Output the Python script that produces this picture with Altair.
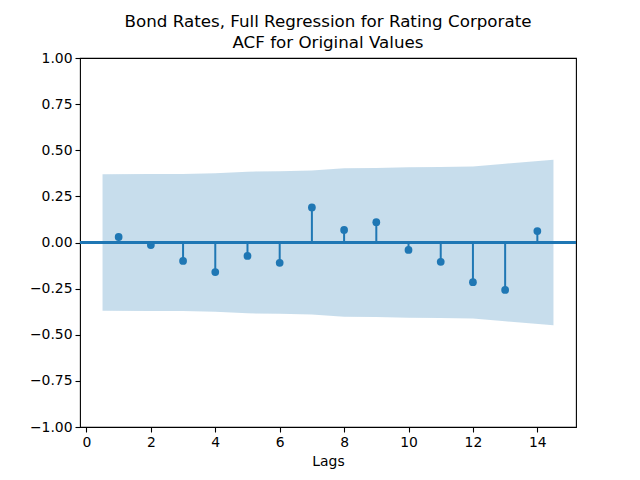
import altair as alt
import pandas as pd

lags = list(range(1, 15))
acf_values = [0.030, -0.014, -0.100, -0.160, -0.073, -0.110, 0.190,
              0.068, 0.110, -0.040, -0.105, -0.215, -0.257, 0.062]
conf_band = [0.370, 0.371, 0.371, 0.375, 0.384, 0.386, 0.390,
             0.402, 0.404, 0.408, 0.409, 0.412, 0.427, 0.448]
y_ticks = [-1.0, -0.75, -0.5, -0.25, 0.0, 0.25, 0.5, 0.75, 1.0]
x_ticks = [0, 2, 4, 6, 8, 10, 12, 14]

band_x = [lags[0] - 0.5] + lags[1:-1] + [lags[-1] + 0.5]
band_df = pd.DataFrame({"x": band_x, "lo": [-c for c in conf_band], "hi": conf_band})
acf_df = pd.DataFrame({"lag": lags, "acf": acf_values, "zero": [0.0] * len(lags)})

C0 = "#1f77b4"
FONT = "DejaVu Sans"

xscale = alt.Scale(domain=[-0.2, 15.2], nice=False, zero=False)
yscale = alt.Scale(domain=[-1.0, 1.0], nice=False)

xaxis = alt.Axis(title="Lags", values=x_ticks, format="d", grid=False,
                 tickColor="black", tickSize=5, tickWidth=1.1,
                 labelColor="black", labelFontSize=13.9, labelFont=FONT,
                 titleFont=FONT, titleFontSize=13.9, titleFontWeight="normal",
                 titleColor="black", titlePadding=6, labelPadding=3,
                 domain=False, labelFlush=False)
yaxis = alt.Axis(title=None, values=y_ticks, format=".2f", grid=False,
                 tickColor="black", tickSize=5, tickWidth=1.1,
                 labelColor="black", labelFontSize=13.9, labelFont=FONT,
                 labelPadding=3, domain=False, labelFlush=False)

band = alt.Chart(band_df).mark_area(color=C0, opacity=0.25).encode(
    x=alt.X("x:Q", scale=xscale, axis=xaxis),
    y=alt.Y("lo:Q", scale=yscale, axis=yaxis),
    y2="hi:Q",
)

zero_line = alt.Chart(acf_df).mark_rule(color=C0, strokeWidth=1.8).encode(
    y=alt.datum(0, scale=yscale)
)

stems = alt.Chart(acf_df).mark_rule(color=C0, strokeWidth=2).encode(
    x=alt.X("lag:Q", scale=xscale),
    y=alt.Y("zero:Q", scale=yscale),
    y2="acf:Q",
)

dots = alt.Chart(acf_df).mark_circle(color=C0, opacity=1, size=60).encode(
    x=alt.X("lag:Q", scale=xscale),
    y=alt.Y("acf:Q", scale=yscale),
)

chart = alt.layer(band, zero_line, stems, dots).properties(
    width=496,
    height=369,
    background="white",
    title=alt.TitleParams(
        text=["Bond Rates, Full Regression for Rating Corporate", "ACF for Original Values"],
        font=FONT, fontSize=16.7, fontWeight="normal", color="black",
        anchor="middle", offset=-1, lineHeight=21,
    ),
    autosize=alt.AutoSizeParams(type="none"),
    padding={"left": 72, "top": 50, "right": 56, "bottom": 45},
).configure_view(stroke="black", strokeWidth=1.1)

chart.save("out.html", embed_options={"renderer": "svg", "actions": False})
